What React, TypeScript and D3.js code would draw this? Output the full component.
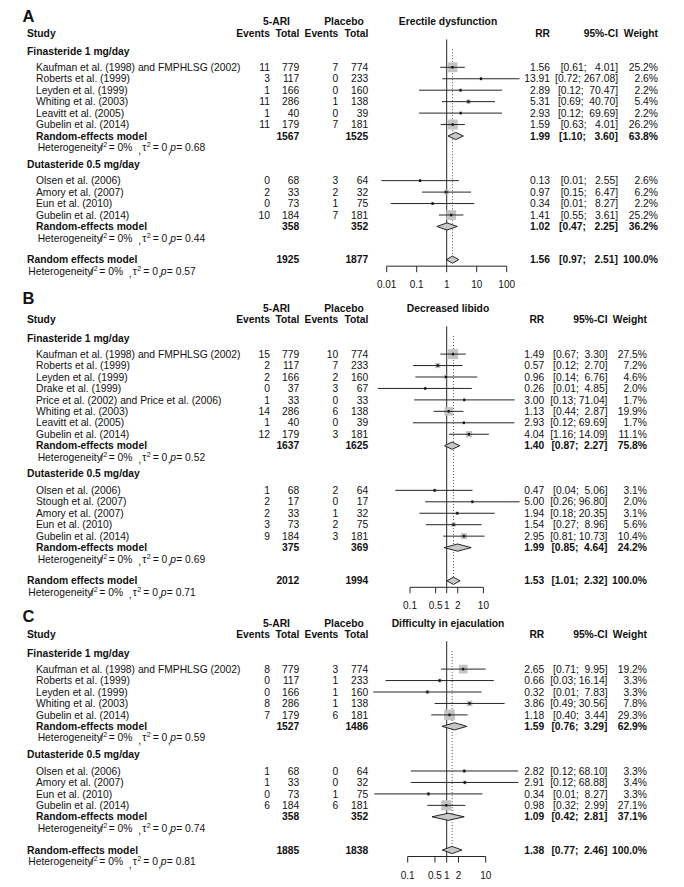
import React from 'react';
import * as d3 from 'd3';

// ---------- shared labels ----------
const panelLetters = ['A', 'B', 'C'];
const outcomes = ['Erectile dysfunction', 'Decreased libido', 'Difficulty in ejaculation'];
const groupNames = ['Finasteride 1 mg/day', 'Dutasteride 0.5 mg/day'];
const overallLabels = ['Random effects model', 'Random effects model', 'Random-effects model'];

// ---------- Panel A: erectile dysfunction ----------
const A_study = ['Kaufman et al. (1998) and FMPHLSG (2002)', 'Roberts et al. (1999)', 'Leyden et al. (1999)', 'Whiting et al. (2003)', 'Leavitt et al. (2005)', 'Gubelin et al. (2014)', 'Olsen et al. (2006)', 'Amory et al. (2007)', 'Eun et al. (2010)', 'Gubelin et al. (2014)'];
const A_group = [0, 0, 0, 0, 0, 0, 1, 1, 1, 1];
const A_e1 = [11, 3, 1, 11, 1, 11, 0, 2, 0, 10];
const A_n1 = [779, 117, 166, 286, 40, 179, 68, 33, 73, 184];
const A_e2 = [7, 0, 0, 1, 0, 7, 3, 2, 1, 7];
const A_n2 = [774, 233, 160, 138, 39, 181, 64, 32, 75, 181];
const A_rr = [1.56, 13.91, 2.89, 5.31, 2.93, 1.59, 0.13, 0.97, 0.34, 1.41];
const A_lo = [0.61, 0.72, 0.12, 0.69, 0.12, 0.63, 0.0066, 0.15, 0.0136, 0.55];
const A_hi = [4.01, 267.08, 70.47, 40.70, 69.69, 4.01, 2.55, 6.47, 8.27, 3.61];
const A_w = [25.2, 2.6, 2.2, 5.4, 2.2, 26.2, 2.6, 6.2, 2.2, 25.2];
// pooled rows: [finasteride subgroup, dutasteride subgroup, overall]
const A_poolN1 = [1567, 358, 1925];
const A_poolN2 = [1525, 352, 1877];
const A_poolRR = [1.99, 1.02, 1.56];
const A_poolLo = [1.10, 0.47, 0.97];
const A_poolHi = [3.60, 2.25, 2.51];
const A_poolW = [63.8, 36.2, 100.0];
const A_hetP = ['0.68', '0.44', '0.57'];
const A_ticks = [0.01, 0.1, 1, 10, 100];

// ---------- Panel B: decreased libido ----------
const B_study = ['Kaufman et al. (1998) and FMPHLSG (2002)', 'Roberts et al. (1999)', 'Leyden et al. (1999)', 'Drake et al. (1999)', 'Price et al. (2002) and Price et al. (2006)', 'Whiting et al. (2003)', 'Leavitt et al. (2005)', 'Gubelin et al. (2014)', 'Olsen et al. (2006)', 'Stough et al. (2007)', 'Amory et al. (2007)', 'Eun et al. (2010)', 'Gubelin et al. (2014)'];
const B_group = [0, 0, 0, 0, 0, 0, 0, 0, 1, 1, 1, 1, 1];
const B_e1 = [15, 2, 2, 0, 1, 14, 1, 12, 1, 2, 2, 3, 9];
const B_n1 = [779, 117, 166, 37, 33, 286, 40, 179, 68, 17, 33, 73, 184];
const B_e2 = [10, 7, 2, 3, 0, 6, 0, 3, 2, 0, 1, 2, 3];
const B_n2 = [774, 233, 160, 67, 33, 138, 39, 181, 64, 17, 32, 75, 181];
const B_rr = [1.49, 0.57, 0.96, 0.26, 3.00, 1.13, 2.93, 4.04, 0.47, 5.00, 1.94, 1.54, 2.95];
const B_lo = [0.67, 0.12, 0.14, 0.0132, 0.13, 0.44, 0.12, 1.16, 0.04, 0.26, 0.18, 0.27, 0.81];
const B_hi = [3.30, 2.70, 6.76, 4.85, 71.04, 2.87, 69.69, 14.09, 5.06, 96.80, 20.35, 8.96, 10.73];
const B_w = [27.5, 7.2, 4.6, 2.0, 1.7, 19.9, 1.7, 11.1, 3.1, 2.0, 3.1, 5.6, 10.4];
const B_poolN1 = [1637, 375, 2012];
const B_poolN2 = [1625, 369, 1994];
const B_poolRR = [1.40, 1.99, 1.53];
const B_poolLo = [0.87, 0.85, 1.01];
const B_poolHi = [2.27, 4.64, 2.32];
const B_poolW = [75.8, 24.2, 100.0];
const B_hetP = ['0.52', '0.69', '0.71'];
const B_ticks = [0.1, 0.5, 1, 2, 10];

// ---------- Panel C: difficulty in ejaculation ----------
const C_study = ['Kaufman et al. (1998) and FMPHLSG (2002)', 'Roberts et al. (1999)', 'Leyden et al. (1999)', 'Whiting et al. (2003)', 'Gubelin et al. (2014)', 'Olsen et al. (2006)', 'Amory et al. (2007)', 'Eun et al. (2010)', 'Gubelin et al. (2014)'];
const C_group = [0, 0, 0, 0, 0, 1, 1, 1, 1];
const C_e1 = [8, 0, 0, 8, 7, 1, 1, 0, 6];
const C_n1 = [779, 117, 166, 286, 179, 68, 33, 73, 184];
const C_e2 = [3, 1, 1, 1, 6, 0, 0, 1, 6];
const C_n2 = [774, 233, 160, 138, 181, 64, 32, 75, 181];
const C_rr = [2.65, 0.66, 0.32, 3.86, 1.18, 2.82, 2.91, 0.34, 0.98];
const C_lo = [0.71, 0.027, 0.0131, 0.49, 0.40, 0.12, 0.12, 0.0139, 0.32];
const C_hi = [9.95, 16.14, 7.83, 30.56, 3.44, 68.10, 68.88, 8.27, 2.99];
const C_w = [19.2, 3.3, 3.3, 7.8, 29.3, 3.3, 3.4, 3.3, 27.1];
const C_poolN1 = [1527, 358, 1885];
const C_poolN2 = [1486, 352, 1838];
const C_poolRR = [1.59, 1.09, 1.38];
const C_poolLo = [0.76, 0.42, 0.77];
const C_poolHi = [3.29, 2.81, 2.46];
const C_poolW = [62.9, 37.1, 100.0];
const C_hetP = ['0.59', '0.74', '0.81'];
const C_ticks = [0.1, 0.5, 1, 2, 10];

// ---------- assemble (data only) ----------
const panelsData = [
  { study: A_study, group: A_group, e1: A_e1, n1: A_n1, e2: A_e2, n2: A_n2, rr: A_rr, lo: A_lo, hi: A_hi, w: A_w, pN1: A_poolN1, pN2: A_poolN2, pRR: A_poolRR, pLo: A_poolLo, pHi: A_poolHi, pW: A_poolW, hetP: A_hetP, ticks: A_ticks },
  { study: B_study, group: B_group, e1: B_e1, n1: B_n1, e2: B_e2, n2: B_n2, rr: B_rr, lo: B_lo, hi: B_hi, w: B_w, pN1: B_poolN1, pN2: B_poolN2, pRR: B_poolRR, pLo: B_poolLo, pHi: B_poolHi, pW: B_poolW, hetP: B_hetP, ticks: B_ticks },
  { study: C_study, group: C_group, e1: C_e1, n1: C_n1, e2: C_e2, n2: C_n2, rr: C_rr, lo: C_lo, hi: C_hi, w: C_w, pN1: C_poolN1, pN2: C_poolN2, pRR: C_poolRR, pLo: C_poolLo, pHi: C_poolHi, pW: C_poolW, hetP: C_hetP, ticks: C_ticks },
];

// ---------- layout / style ----------
const FONT = "'Liberation Sans', Arial, Helvetica, sans-serif";
const FS = 10.3;
const U = 11.45;
const layouts = [
  { letterY: 16, titleY: 21.5, range: [386.7, 506.7], rrX: 550, ciX: 618, wX: 658, sqMax: 10 },
  { letterY: 298.3, titleY: 308.3, range: [410, 483.4], rrX: 544.3, ciX: 607.5, wX: 647, sqMax: 10 },
  { letterY: 616.7, titleY: 623.3, range: [407.7, 485.7], rrX: 544.3, ciX: 607.5, wX: 647, sqMax: 10.7 },
];
const COL = { studyX: 36, groupX: 27, e1X: 270, n1X: 299.3, e2X: 338.3, n2X: 368.3, ariC: 276.5, plaC: 344, outC: 448 };
const SQ_FILL = '#c4c4c4';
const LINE = '#262626';

const fmt2 = (v: number) => v.toFixed(2);

function T(props: any) {
  const { x, y, anchor = 'start', bold = false, size = FS, children, italic = false } = props;
  return (
    <text x={x} y={y} dy="0.35em" textAnchor={anchor} fontWeight={bold ? 'bold' : 'normal'} fontStyle={italic ? 'italic' : 'normal'}
      fontSize={size} fontFamily={FONT} fill="#111" xmlSpace="preserve" style={{ whiteSpace: 'pre' }}>{children}</text>
  );
}

function Het({ x, y, p }: { x: number; y: number; p: string }) {
  const b = y + 3.6;
  const common = { fontFamily: FONT, fill: '#111' } as any;
  return (
    <g>
      <text x={x} y={b} {...common} fontSize={FS}>Heterogeneity</text>
      <text x={x + 62.5} y={b} {...common} fontSize={FS} fontStyle="italic">I</text>
      <text x={x + 65.5} y={b - 4} {...common} fontSize={7.2}>2</text>
      <text x={x + 71} y={b} {...common} fontSize={FS}>= 0%</text>
      <text x={x + 100.5} y={b + 2.5} {...common} fontSize={FS}>,</text>
      <text x={x + 104.5} y={b} {...common} fontSize={FS}>τ</text>
      <text x={x + 109} y={b - 4} {...common} fontSize={7.2}>2</text>
      <text x={x + 115} y={b} {...common} fontSize={FS}>= 0</text>
      <text x={x + 130} y={b + 2.5} {...common} fontSize={FS}>,</text>
      <text x={x + 132.5} y={b} {...common} fontSize={FS} fontStyle="italic">p</text>
      <text x={x + 138.5} y={b} {...common} fontSize={FS}>{'= ' + p}</text>
    </g>
  );
}

function Panel({ d, L, idx }: any) {
  const x = d3.scaleLog().domain([d.ticks[0], d.ticks[d.ticks.length - 1]]).range(L.range);
  const t = L.titleY;
  const headerY = t + U;

  // CI strings, padded as in R's formatC
  const allLo = [...d.lo, ...d.pLo].map(fmt2);
  const allHi = [...d.hi, ...d.pHi].map(fmt2);
  const ml = d3.max(allLo, (s: string) => s.length) as number;
  const mh = d3.max(allHi, (s: string) => s.length) as number;
  const ci = allLo.map((l: string, i: number) => '[' + l.padStart(ml) + '; ' + allHi[i].padStart(mh) + ']');
  const nS = d.study.length;

  const maxW = d3.max(d.w) as number;
  const sq = d3.scaleSqrt().domain([0, maxW]).range([0, L.sqMax]);

  // vertical layout
  const groups: any[] = [];
  let y = t + 2.6 * U;
  for (let g = 0; g < 2; g++) {
    const ids = d.group.map((gg: number, i: number) => (gg === g ? i : -1)).filter((i: number) => i >= 0);
    const headingY = y;
    const first = y + (g === 0 ? 1.4 : 1.45) * U;
    const ys = ids.map((_: any, k: number) => first + k * U);
    const reY = first + ids.length * U;
    const hetY = reY + U;
    groups.push({ g, ids, headingY, ys, reY, hetY });
    y = hetY + 1.45 * U;
  }
  const overallY = groups[1].hetY + 1.9 * U;
  const overallHetY = overallY + U;
  const axisY = overallY + 6.5;
  const tickLabY = overallY + 25;
  const x1 = x(1);
  const xo = x(d.pRR[2]);

  const diamond = (k: number, cy: number) => {
    const h = 3.6;
    const pts = [[x(d.pLo[k]), cy], [x(d.pRR[k]), cy - h], [x(d.pHi[k]), cy], [x(d.pRR[k]), cy + h]];
    return <polygon points={pts.map((p) => p.join(',')).join(' ')} fill="#c8c8c8" stroke="#111" strokeWidth={0.9} />;
  };

  return (
    <g>
      {/* panel letter and headers */}
      <T x={22.5} y={L.letterY} bold size={16.5}>{panelLetters[idx]}</T>
      <T x={COL.ariC} y={t} anchor="middle" bold>5-ARI</T>
      <T x={COL.plaC} y={t} anchor="middle" bold>Placebo</T>
      <T x={COL.outC} y={t} anchor="middle" bold>{outcomes[idx]}</T>
      <T x={COL.groupX} y={headerY} bold>Study</T>
      <T x={COL.e1X} y={headerY} anchor="end" bold>Events</T>
      <T x={COL.n1X} y={headerY} anchor="end" bold>Total</T>
      <T x={COL.e2X} y={headerY} anchor="end" bold>Events</T>
      <T x={COL.n2X} y={headerY} anchor="end" bold>Total</T>
      <T x={L.rrX} y={headerY} anchor="end" bold>RR</T>
      <T x={L.ciX} y={headerY} anchor="end" bold>95%-CI</T>
      <T x={L.wX} y={headerY} anchor="end" bold>Weight</T>

      {/* reference lines */}
      <line x1={x1} x2={x1} y1={headerY + 6.5} y2={axisY} stroke={LINE} strokeWidth={1} />
      <line x1={xo} x2={xo} y1={groups[0].headingY - 2} y2={overallY} stroke={LINE} strokeWidth={0.8} strokeDasharray="1,2" />

      {groups.map((G: any) => (
        <g key={G.g}>
          <T x={COL.groupX} y={G.headingY} bold>{groupNames[G.g]}</T>
          {G.ids.map((i: number, k: number) => {
            const yy = G.ys[k];
            const s = sq(d.w[i]);
            return (
              <g key={i}>
                <T x={COL.studyX} y={yy}>{d.study[i]}</T>
                <T x={COL.e1X} y={yy} anchor="end">{String(d.e1[i])}</T>
                <T x={COL.n1X} y={yy} anchor="end">{String(d.n1[i])}</T>
                <T x={COL.e2X} y={yy} anchor="end">{String(d.e2[i])}</T>
                <T x={COL.n2X} y={yy} anchor="end">{String(d.n2[i])}</T>
                <T x={L.rrX} y={yy} anchor="end">{fmt2(d.rr[i])}</T>
                <T x={L.ciX} y={yy} anchor="end">{ci[i]}</T>
                <T x={L.wX} y={yy} anchor="end">{d.w[i].toFixed(1) + '%'}</T>
                <rect x={x(d.rr[i]) - s / 2} y={yy - s / 2} width={s} height={s} fill={SQ_FILL} />
                <line x1={x(d.lo[i])} x2={x(d.hi[i])} y1={yy} y2={yy} stroke={LINE} strokeWidth={1} />
                <rect x={x(d.rr[i]) - 1} y={yy - 1.3} width={2} height={2.6} fill="#111" />
              </g>
            );
          })}
          <T x={COL.studyX} y={G.reY} bold>Random-effects model</T>
          <T x={COL.n1X} y={G.reY} anchor="end" bold>{String(d.pN1[G.g])}</T>
          <T x={COL.n2X} y={G.reY} anchor="end" bold>{String(d.pN2[G.g])}</T>
          <T x={L.rrX} y={G.reY} anchor="end" bold>{fmt2(d.pRR[G.g])}</T>
          <T x={L.ciX} y={G.reY} anchor="end" bold>{ci[nS + G.g]}</T>
          <T x={L.wX} y={G.reY} anchor="end" bold>{d.pW[G.g].toFixed(1) + '%'}</T>
          {diamond(G.g, G.reY)}
          <Het x={37.7} y={G.hetY} p={d.hetP[G.g]} />
        </g>
      ))}

      {/* overall */}
      <T x={COL.groupX} y={overallY} bold>{overallLabels[idx]}</T>
      <T x={COL.n1X} y={overallY} anchor="end" bold>{String(d.pN1[2])}</T>
      <T x={COL.n2X} y={overallY} anchor="end" bold>{String(d.pN2[2])}</T>
      <T x={L.rrX} y={overallY} anchor="end" bold>{fmt2(d.pRR[2])}</T>
      <T x={L.ciX} y={overallY} anchor="end" bold>{ci[nS + 2]}</T>
      <T x={L.wX} y={overallY} anchor="end" bold>{d.pW[2].toFixed(1) + '%'}</T>
      {diamond(2, overallY)}
      <Het x={28.3} y={overallHetY} p={d.hetP[2]} />

      {/* axis */}
      <line x1={x(d.ticks[0])} x2={x(d.ticks[d.ticks.length - 1])} y1={axisY} y2={axisY} stroke={LINE} strokeWidth={1} />
      {d.ticks.map((tv: number) => (
        <g key={tv}>
          <line x1={x(tv)} x2={x(tv)} y1={axisY} y2={axisY + 6} stroke={LINE} strokeWidth={1} />
          <T x={x(tv)} y={tickLabY} anchor="middle" size={10}>{String(tv)}</T>
        </g>
      ))}
    </g>
  );
}

export default function App() {
  return (
    <div style={{ position: 'absolute', left: 0, top: 0 }}>
      <svg width={684} height={887} viewBox="0 0 684 887" style={{ display: 'block', background: '#fff' }}>
        <rect x={0} y={0} width={684} height={887} fill="#fff" />
        {panelsData.map((d, i) => (
          <Panel key={i} d={d} L={layouts[i]} idx={i} />
        ))}
      </svg>
    </div>
  );
}
